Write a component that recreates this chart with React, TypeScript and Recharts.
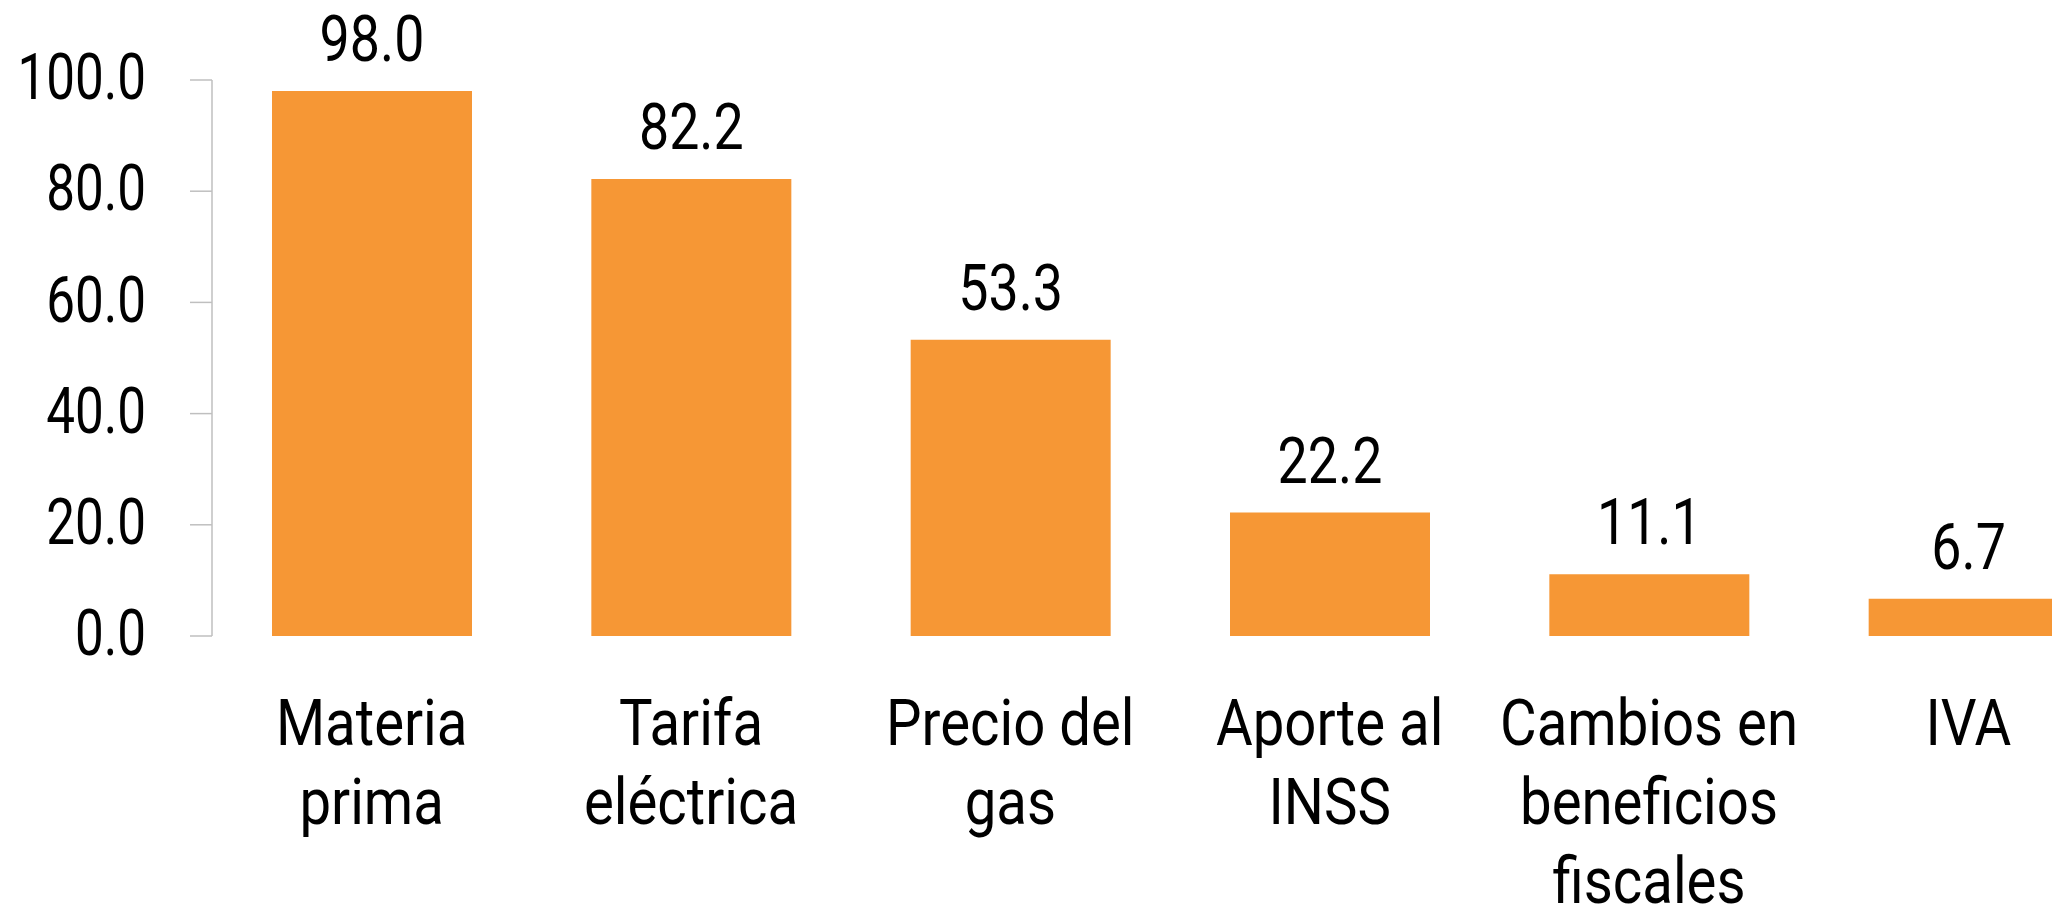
import React from 'react'
import { BarChart, Bar, XAxis, YAxis, LabelList } from 'recharts'

// categories (line breaks as in the source chart)
const CATEGORIES = [
  'Materia\nprima',
  'Tarifa\neléctrica',
  'Precio del\ngas',
  'Aporte al\nINSS',
  'Cambios en\nbeneficios\nfiscales',
  'IVA',
]
const VALUES = [98.0, 82.2, 53.3, 22.2, 11.1, 6.7]
const Y_TICKS = [0, 20, 40, 60, 80, 100]

const data = CATEGORIES.map((name, i) => ({ name, value: VALUES[i] }))

const FONT = 'Roboto, "Noto Sans", sans-serif'
const SIZE = 64
const ORANGE = '#F69735'
const GREY = '#bfbfbf'

// the source font is a condensed DIN-like face, so squeeze Roboto a bit
function Squeezed({ x, y, sx, anchor = 'middle', dy, children }: any) {
  return (
    <g transform={`translate(${x},${y})`}>
      <text transform={`scale(${sx},1)`} textAnchor={anchor} dy={dy} fill="#000" fontSize={SIZE} fontFamily={FONT}>
        {children}
      </text>
    </g>
  )
}

function CategoryTick(props: any) {
  const { x, y, payload } = props
  const lines = String(payload.value).split('\n')
  return (
    <g transform={`translate(${x},${y})`}>
      <text transform="scale(0.88,1)" textAnchor="middle" fill="#000" fontSize={SIZE} fontFamily={FONT}>
        {lines.map((l, i) => (
          <tspan key={i} x={0} dy={i === 0 ? '0.71em' : 79}>{l}</tspan>
        ))}
      </text>
    </g>
  )
}

function ValueTick(props: any) {
  const { x, y, payload } = props
  return <Squeezed x={x} y={y} sx={0.8} anchor="end" dy="0.3em">{Number(payload.value).toFixed(1)}</Squeezed>
}

function BarValue(props: any) {
  const { x, y, width, value } = props
  return <Squeezed x={Number(x) + Number(width) / 2} y={Number(y) - 30} sx={0.84}>{Number(value).toFixed(1)}</Squeezed>
}

export default function App() {
  return (
    <div style={{ position: 'fixed', left: 0, top: 0, width: 2052, height: 914, overflow: 'hidden', background: '#fff' }}>
      <BarChart
        width={2140}
        height={914}
        data={data}
        margin={{ top: 80, right: 12, bottom: 8, left: 0 }}
      >
        <XAxis
          dataKey="name"
          axisLine={false}
          tickLine={false}
          tickSize={0}
          tickMargin={64}
          height={270}
          interval={0}
          tick={<CategoryTick />}
        />
        <YAxis
          width={212}
          domain={[0, 100]}
          ticks={Y_TICKS}
          axisLine={{ stroke: GREY, strokeWidth: 1.5 }}
          tickLine={{ stroke: GREY, strokeWidth: 1.5 }}
          tickSize={22}
          tickMargin={44}
          tick={<ValueTick />}
        />
        <Bar dataKey="value" fill={ORANGE} barSize={200} isAnimationActive={false}>
          <LabelList dataKey="value" content={<BarValue />} />
        </Bar>
      </BarChart>
    </div>
  )
}
